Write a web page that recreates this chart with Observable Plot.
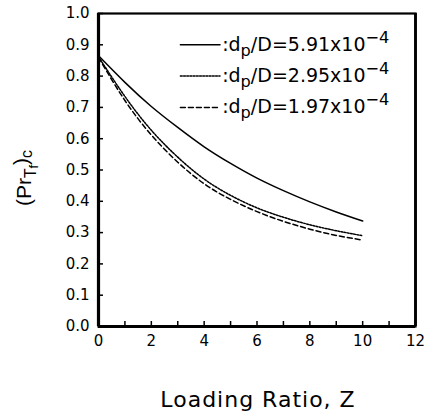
<!DOCTYPE html>
<html>
<head>
<meta charset="utf-8">
<script src="https://cdn.jsdelivr.net/npm/d3@7"></script>
<script src="https://cdn.jsdelivr.net/npm/@observablehq/plot@0.6"></script>
<style>
  html, body { margin: 0; padding: 0; background: white; }
  #chart svg { display: block; }
</style>
</head>
<body>
<div id="chart"></div>
<script>
// ---- data ----
const xTicks = [0, 2, 4, 6, 8, 10, 12];
const xMinorTicks = [0, 1, 2, 3, 4, 5, 6, 7, 8, 9, 10, 11, 12];
const yTicks = [0, 0.1, 0.2, 0.3, 0.4, 0.5, 0.6, 0.7, 0.8, 0.9, 1.0];
const zValues = [0, 1, 2, 3, 4, 5, 6, 7, 8, 9, 10];
const ratioLabels = ["5.91", "2.95", "1.97"];
const solidValues  = [0.865, 0.78, 0.703, 0.636, 0.574, 0.521, 0.474, 0.434, 0.398, 0.366, 0.337];
const dottedValues = [0.862, 0.735, 0.627, 0.541, 0.471, 0.419, 0.379, 0.349, 0.325, 0.306, 0.29];
const dashedValues = [0.860, 0.722, 0.612, 0.525, 0.456, 0.406, 0.367, 0.336, 0.311, 0.291, 0.276];
const legendY = [0.9, 0.8, 0.7];

const seriesValues = [solidValues, dottedValues, dashedValues];
const dashes = [null, "1.8,1.4", "5,3"];

const rows = [];
seriesValues.forEach((vals, s) => vals.forEach((v, i) => rows.push({s, z: zValues[i], v})));

const legendLines = [];
legendY.forEach((y, s) => { legendLines.push({s, x: 3.1, y}); legendLines.push({s, x: 4.6, y}); });
const legendText = legendY.map((y, s) => ({s, x: 4.68, y, label: ":d_p/D=" + ratioLabels[s] + "x10^-4"}));

const marks = [];
seriesValues.forEach((vals, s) => {
  marks.push(Plot.line(rows.filter(d => d.s === s), {
    x: "z", y: "v", stroke: "black", strokeWidth: 1.5,
    strokeDasharray: dashes[s], curve: "natural"
  }));
  marks.push(Plot.line(legendLines.filter(d => d.s === s), {
    x: "x", y: "y", stroke: "black", strokeWidth: 1.5, strokeDasharray: dashes[s]
  }));
});
marks.push(Plot.text(legendText, {
  x: "x", y: "y", text: "label", textAnchor: "start", fontSize: 19, dy: 0
}));

const chart = Plot.plot({
  width: 428, height: 411,
  marginLeft: 98, marginRight: 13, marginTop: 13, marginBottom: 85,
  x: {domain: [0, 12]},
  y: {domain: [0, 1]},
  style: {fontFamily: "DejaVu Sans", fontSize: "15px", color: "black", background: "white"},
  marks: [
    Plot.axisX({ticks: xMinorTicks, tickSize: -5, tickFormat: () => "", label: null, strokeWidth: 1.5}),
    Plot.axisX({ticks: xTicks, tickSize: 0, tickPadding: 9, label: null, fontSize: 15}),
    Plot.axisY({ticks: yTicks, tickSize: -5, tickFormat: () => "", label: null, strokeWidth: 1.5}),
    Plot.axisY({ticks: yTicks, tickSize: 0, tickPadding: 9, tickFormat: d3.format(".1f"), label: null, fontSize: 15}),
    Plot.frame({stroke: "black", strokeWidth: 2.2}),
    Plot.ruleX([0], {stroke: "black", strokeWidth: 3.2}),
    Plot.ruleY([0], {stroke: "black", strokeWidth: 3.2}),
    Plot.ruleX([12], {stroke: "black", strokeWidth: 2.8}),
    ...marks
  ]
});

document.getElementById("chart").appendChild(chart);
const svg = d3.select(chart);

// rich legend text
svg.selectAll("text").each(function() {
  const t = this.textContent;
  const m = /^:d_p\/D=(.*)x10\^-4$/.exec(t);
  if (!m) return;
  const el = d3.select(this);
  el.text(null);
  el.append("tspan").text(":d");
  el.append("tspan").attr("dy", "0.3em").attr("font-size", "0.85em").text("p");
  el.append("tspan").attr("dy", "-0.26em").text("/D=" + m[1] + "x10");
  el.append("tspan").attr("dy", "-0.5em").attr("font-size", "0.85em").text("\u22124");
});

// x axis title
svg.append("text")
  .attr("x", 258).attr("y", 407)
  .attr("text-anchor", "middle")
  .attr("font-family", "DejaVu Sans")
  .attr("font-size", 22)
  .attr("letter-spacing", 1)
  .attr("fill", "black")
  .text("Loading Ratio, Z");

// y axis title (Pr_{T_f})_c
const yl = svg.append("text")
  .attr("transform", "translate(31,178) rotate(-90)")
  .attr("text-anchor", "middle")
  .attr("font-family", "Liberation Sans")
  .attr("font-size", 21)
  .attr("fill", "black");
yl.append("tspan").text("(Pr");
yl.append("tspan").attr("dy", "0.3em").attr("font-size", "0.75em").text("T");
yl.append("tspan").attr("dy", "0.2em").attr("font-size", "0.6em").text("f");
yl.append("tspan").attr("dy", "-0.5em").text(")");
yl.append("tspan").attr("dy", "0.3em").attr("font-size", "0.75em").text("c");
</script>
</body>
</html>
